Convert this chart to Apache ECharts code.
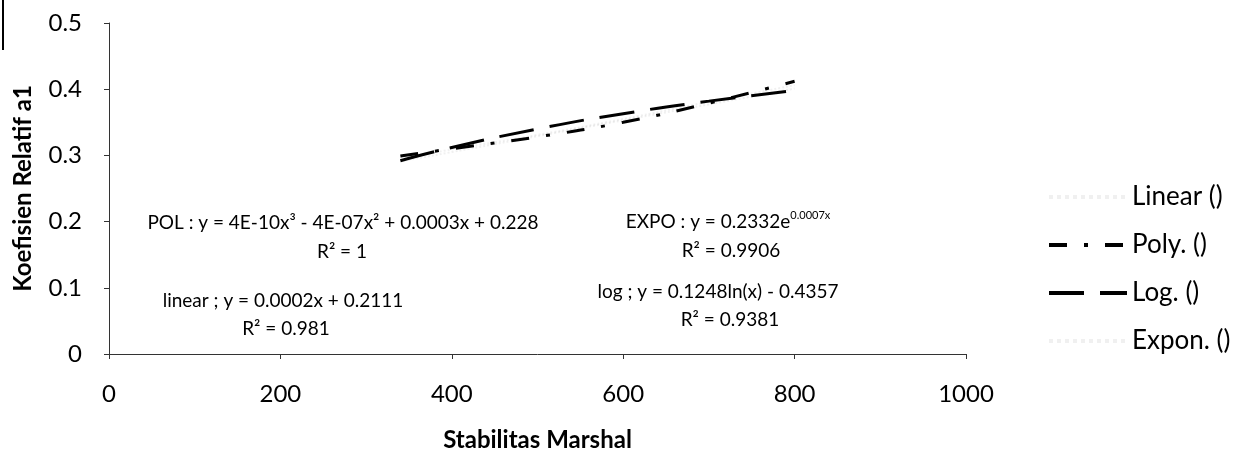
<!DOCTYPE html>
<html>
<head>
<meta charset="utf-8">
<script src="https://cdn.jsdelivr.net/npm/echarts@6/dist/echarts.min.js"></script>
<style>html,body{margin:0;padding:0;background:#fff;}#c{width:1236px;height:464px;}</style>
</head>
<body>
<div id="c"></div>
<script>
// Data
const xValues = [340, 400, 500, 600, 700, 800];
const linearValues = [0.291, 0.305, 0.329, 0.353, 0.377, 0.401];
const polyValues = [0.299, 0.310, 0.328, 0.350, 0.379, 0.412];
const logValues = [0.292, 0.312, 0.340, 0.363, 0.382, 0.398];
const exponValues = [0.296, 0.309, 0.331, 0.355, 0.381, 0.406];
const seriesNames = ['Linear ()', 'Poly. ()', 'Log. ()', 'Expon. ()'];
const xTicks = [0, 200, 400, 600, 800, 1000];
const yTicks = [0, 0.1, 0.2, 0.3, 0.4, 0.5];

const FONT = 'Lato, "Open Sans", sans-serif';
const pair = (ys) => xValues.map((x, i) => [x, ys[i]]);

const chart = echarts.init(document.getElementById('c'), null, {renderer: 'canvas'});
const option = {
  backgroundColor: '#ffffff',
  animation: false,
  textStyle: {fontFamily: FONT, color: '#000'},
  grid: {left: 109, right: 270, top: 23, bottom: 110, containLabel: false},
  xAxis: {
    type: 'value', min: xTicks[0], max: xTicks[xTicks.length - 1], interval: 200,
    name: 'Stabilitas Marshal', nameLocation: 'middle', nameGap: 74,
    nameTextStyle: {fontFamily: FONT, fontSize: 24, fontWeight: 'bold', color: '#000'},
    axisLine: {lineStyle: {color: '#333', width: 1}},
    axisTick: {show: true, length: 5, lineStyle: {color: '#333'}},
    axisLabel: {fontFamily: FONT, fontSize: 24, color: '#000', margin: 28, formatter: (v) => String(v)},
    splitLine: {show: false}
  },
  yAxis: {
    type: 'value', min: yTicks[0], max: yTicks[yTicks.length - 1], interval: 0.1,
    name: 'Koefisien Relatif a1', nameLocation: 'middle', nameGap: 74,
    nameTextStyle: {fontFamily: FONT, fontSize: 24, fontWeight: 'bold', color: '#000'},
    axisLine: {show: true, lineStyle: {color: '#333', width: 1}},
    axisTick: {show: true, length: 5, lineStyle: {color: '#333'}},
    axisLabel: {fontFamily: FONT, fontSize: 24, color: '#000', margin: 27},
    splitLine: {show: false}
  },
  legend: {
    orient: 'vertical', left: 1042, top: 178,
    itemWidth: 78, itemHeight: 14, itemGap: 20,
    data: seriesNames,
    itemStyle: {opacity: 0},
    lineStyle: {width: 4},
    textStyle: {fontFamily: FONT, fontSize: 26, color: '#000', lineHeight: 28}
  },
  series: [
    {name: seriesNames[0], type: 'line', smooth: true, symbol: 'none', data: pair(linearValues),
     lineStyle: {color: 'rgba(0,0,0,0.06)', width: 2, type: 'dotted'}, itemStyle: {color: 'rgba(0,0,0,0.06)'}},
    {name: seriesNames[1], type: 'line', smooth: true, symbol: 'none', data: pair(polyValues),
     lineStyle: {color: '#000', width: 3, type: [18, 17, 4, 17]}, itemStyle: {color: '#000'}},
    {name: seriesNames[2], type: 'line', smooth: true, symbol: 'none', data: pair(logValues),
     lineStyle: {color: '#000', width: 3, type: [35, 16]}, itemStyle: {color: '#000'}},
    {name: seriesNames[3], type: 'line', smooth: true, symbol: 'none', data: pair(exponValues),
     lineStyle: {color: 'rgba(0,0,0,0.06)', width: 2, type: 'dotted'}, itemStyle: {color: 'rgba(0,0,0,0.06)'}}
  ],
  graphic: [
    {type: 'line', shape: {x1: 3, y1: 0, x2: 3, y2: 50}, style: {stroke: '#000', lineWidth: 2}},
    {type: 'text', x: 343, y: 223, style: {text: 'POL : y = 4E-10x³ - 4E-07x² + 0.0003x + 0.228', font: '19px ' + FONT, fill: '#000', textAlign: 'center', textVerticalAlign: 'middle'}},
    {type: 'text', x: 342, y: 252, style: {text: 'R² = 1', font: '19px ' + FONT, fill: '#000', textAlign: 'center', textVerticalAlign: 'middle'}},
    {type: 'text', x: 283, y: 301, style: {text: 'linear ; y = 0.0002x + 0.2111', font: '19px ' + FONT, fill: '#000', textAlign: 'center', textVerticalAlign: 'middle'}},
    {type: 'text', x: 286, y: 329, style: {text: 'R² = 0.981', font: '19px ' + FONT, fill: '#000', textAlign: 'center', textVerticalAlign: 'middle'}},
    {type: 'text', x: 728, y: 222, style: {text: 'EXPO : y = 0.2332e{s|0.0007x}', font: '19px ' + FONT, fill: '#000', textAlign: 'center', textVerticalAlign: 'middle',
      rich: {s: {fontSize: 11, fontFamily: FONT, fill: '#000', verticalAlign: 'top', lineHeight: 24}}}},
    {type: 'text', x: 731, y: 251, style: {text: 'R² = 0.9906', font: '19px ' + FONT, fill: '#000', textAlign: 'center', textVerticalAlign: 'middle'}},
    {type: 'text', x: 718, y: 292, style: {text: 'log ; y = 0.1248ln(x) - 0.4357', font: '19px ' + FONT, fill: '#000', textAlign: 'center', textVerticalAlign: 'middle'}},
    {type: 'text', x: 730, y: 320, style: {text: 'R² = 0.9381', font: '19px ' + FONT, fill: '#000', textAlign: 'center', textVerticalAlign: 'middle'}}
  ]
};
chart.setOption(option);
</script>
</body>
</html>
